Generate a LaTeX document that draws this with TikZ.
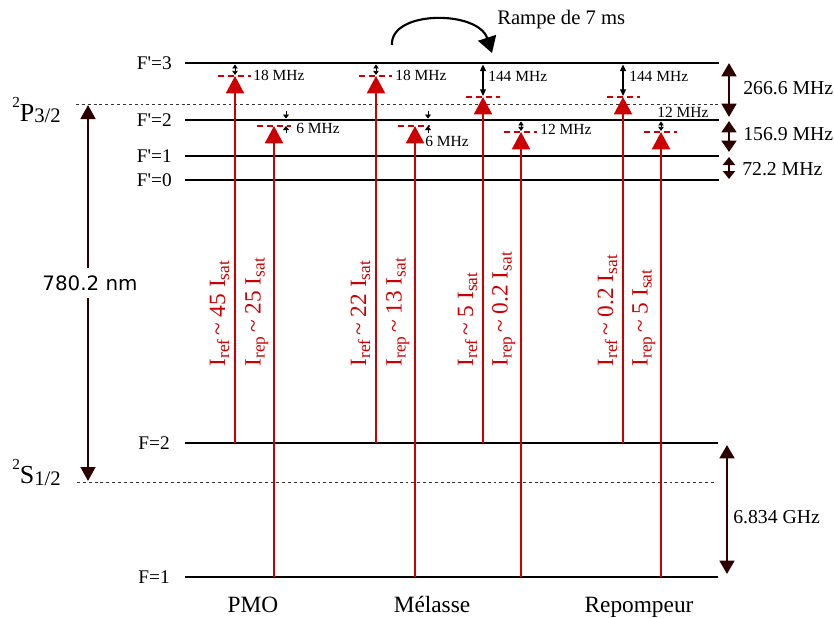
\documentclass[tikz,border=0pt]{standalone}
\usepackage{fontspec}
\setmainfont{Liberation Serif}
\newfontfamily\sansdv{DejaVu Sans}
\usetikzlibrary{arrows.meta}
\definecolor{rouge}{RGB}{204,0,0}
\definecolor{brun}{RGB}{45,0,0}
\newcommand{\indice}[1]{\raisebox{-3pt}{\fontsize{13}{13}\selectfont #1}}
\newcommand{\intens}[2]{I\indice{#1}\,\textasciitilde\ #2 I\indice{sat}}

\begin{document}
\begin{tikzpicture}[x=0.75pt, y=-0.75pt,
  niveau/.style={line width=1.8pt},
  pointille/.style={line width=0.7pt, draw=black!80, dash pattern=on 2.2pt off 2.2pt},
  laser/.style={draw=rouge, line width=1.5pt, -{Triangle[length=13pt,width=13.5pt]}},
  decal/.style={draw=rouge, line width=1.2pt, dash pattern=on 4.5pt off 3pt},
  ecart/.style={draw=brun, line width=2pt, {Triangle[length=#1,width=11pt]}-{Triangle[length=#1,width=11pt]}},
  ecart/.default=10pt,
  ecartc/.style={draw=brun, line width=2pt, {Triangle[length=6pt,width=9pt]}-{Triangle[length=6pt,width=9pt]}},
  petit/.style={line width=0.6pt, {Triangle[length=3pt,width=4pt]}-{Triangle[length=3pt,width=4pt]}},
  fin/.style={line width=0.8pt, {Triangle[length=5pt,width=4.5pt]}-{Triangle[length=5pt,width=4.5pt]}},
  pointe/.style={line width=0.6pt, -{Triangle[length=3pt,width=4.5pt]}},
  rampe/.style={line width=1.6pt, -{Triangle[length=12pt,width=14pt]}},
  nivlbl/.style={anchor=east, inner sep=0pt, font=\fontsize{14.5}{16}\selectfont},
  mhz/.style={anchor=west, inner sep=0pt, font=\fontsize{11.6}{13}\selectfont},
  freq/.style={anchor=west, inner sep=0pt, font=\fontsize{14.8}{16}\selectfont},
  inten/.style={rotate=90, anchor=south west, inner sep=1pt, text=rouge,
                font=\fontsize{17.5}{19}\selectfont},
  etape/.style={anchor=base, inner sep=0pt, font=\fontsize{17.5}{19}\selectfont}
]
  \useasboundingbox (0,0) rectangle (834,617);

  % Niveaux hyperfins
  \coordinate (e3g) at (185,63);  \coordinate (e3d) at (719,63);
  \coordinate (e2g) at (185,120); \coordinate (e2d) at (719,120);
  \coordinate (e1g) at (185,156); \coordinate (e1d) at (719,156);
  \coordinate (e0g) at (185,180); \coordinate (e0d) at (719,180);
  \coordinate (f2g) at (185,443); \coordinate (f2d) at (718,443);
  \coordinate (f1g) at (185,577); \coordinate (f1d) at (718,577);
  \draw[niveau] (e3g) -- (e3d);
  \draw[niveau] (e2g) -- (e2d);
  \draw[niveau] (e1g) -- (e1d);
  \draw[niveau] (e0g) -- (e0d);
  \draw[niveau] (f2g) -- (f2d);
  \draw[niveau] (f1g) -- (f1d);
  \node[nivlbl] (le3) at (172,63)  {F\textquotesingle=3};
  \node[nivlbl] (le2) at (172,120) {F\textquotesingle=2};
  \node[nivlbl] (le1) at (172,156) {F\textquotesingle=1};
  \node[nivlbl] (le0) at (172,180) {F\textquotesingle=0};
  \node[nivlbl] (lf2) at (170,443) {F=2};
  \node[nivlbl] (lf1) at (170,577) {F=1};

  % Niveaux fins (pointillés)
  \coordinate (pg) at (76,104); \coordinate (pd) at (719,104);
  \coordinate (sg) at (77,482); \coordinate (sd) at (716,482);
  \draw[pointille] (pg) -- (pd);
  \draw[pointille] (sg) -- (sd);
  \node[anchor=base west, inner sep=0pt] (tP) at (12,121)
    {\fontsize{19.5}{20}\selectfont\raisebox{10.5pt}{\fontsize{11.5}{12}\selectfont 2}P\raisebox{-1pt}{\fontsize{15.5}{16}\selectfont 3/2}};
  \node[anchor=base west, inner sep=0pt] (tS) at (12,483)
    {\fontsize{19.5}{20}\selectfont\raisebox{10pt}{\fontsize{11.5}{12}\selectfont 2}S\raisebox{-2pt}{\fontsize{15.5}{16}\selectfont 1/2}};

  % Transition D2
  \coordinate (g1) at (88,105); \coordinate (g2) at (88,481);
  \draw[ecart=10.5pt] (g1) -- (g2);
  \node[fill=white, inner xsep=2pt, inner ysep=5.5pt, font=\sansdv\fontsize{14.9}{16}\selectfont]
    (lnm) at (90,283) {780.2 nm};

  % Écarts hyperfins
  \coordinate (d1) at (729,63);  \coordinate (d2) at (729,117);
  \coordinate (d3) at (729,121); \coordinate (d4) at (729,152);
  \coordinate (d5) at (729,157); \coordinate (d6) at (729,179);
  \coordinate (d7) at (727,445); \coordinate (d8) at (727,574);
  \draw[ecart] (d1) -- (d2);
  \draw[ecart=8.5pt] (d3) -- (d4);
  \draw[ecartc] (d5) -- (d6);
  \draw[ecart] (d7) -- (d8);
  \node[freq] (l266) at (743,88)  {266.6 MHz};
  \node[freq] (l156) at (743,134) {156.9 MHz};
  \node[freq] (l72)  at (742,169) {72.2 MHz};
  \node[freq] (l6834) at (733,517) {6.834 GHz};

  % Faisceaux : départ et arrivée
  \coordinate (pmoR0) at (235,443); \coordinate (pmoR1) at (235,76);
  \coordinate (pmoP0) at (274,577); \coordinate (pmoP1) at (274,126);
  \coordinate (melR0) at (376,443); \coordinate (melR1) at (376,76);
  \coordinate (melP0) at (415,577); \coordinate (melP1) at (415,126);
  \coordinate (ramR0) at (483,443); \coordinate (ramR1) at (483,97);
  \coordinate (ramP0) at (521,577); \coordinate (ramP1) at (521,132);
  \coordinate (repR0) at (623,443); \coordinate (repR1) at (623,97);
  \coordinate (repP0) at (661,577); \coordinate (repP1) at (661,132);

  % Désaccords (tirets rouges)
  \draw[decal] ([xshift=-13pt]pmoR1) -- ([xshift=12pt]pmoR1);
  \draw[decal] ([xshift=-13pt]pmoP1) -- ([xshift=13pt]pmoP1);
  \draw[decal] ([xshift=-13pt]melR1) -- ([xshift=12pt]melR1);
  \draw[decal] ([xshift=-13pt]melP1) -- ([xshift=11pt]melP1);
  \draw[decal] ([xshift=-13pt]ramR1) -- ([xshift=13pt]ramR1);
  \draw[decal] ([xshift=-13pt]ramP1) -- ([xshift=12pt]ramP1);
  \draw[decal] ([xshift=-12pt]repR1) -- ([xshift=13pt]repR1);
  \draw[decal] ([xshift=-13pt]repP1) -- ([xshift=12pt]repP1);

  % Petites flèches de désaccord
  \draw[petit] ([yshift=-1.1pt]pmoR1 |- e3g) -- ([yshift=0.8pt]pmoR1);
  \draw[petit] ([yshift=-1.1pt]melR1 |- e3g) -- ([yshift=0.8pt]melR1);
  \draw[fin]   ([yshift=-1.1pt]ramR1 |- e3g) -- ([yshift=0.8pt]ramR1);
  \draw[fin]   ([yshift=-1.1pt]repR1 |- e3g) -- ([yshift=0.8pt]repR1);
  \draw[petit] ([yshift=-1.1pt]ramP1 |- e2g) -- ([yshift=0.8pt]ramP1);
  \draw[petit] ([yshift=-1.1pt]repP1 |- e2g) -- ([yshift=0.8pt]repP1);
  \coordinate (pmo6a) at (286,111); \coordinate (pmo6b) at (286,118.5);
  \coordinate (pmo6c) at (286,133); \coordinate (pmo6d) at (286,126);
  \coordinate (mel6a) at (428,111); \coordinate (mel6b) at (428,118.5);
  \coordinate (mel6c) at (428,133); \coordinate (mel6d) at (428,126);
  \draw[pointe] (pmo6a) -- (pmo6b);
  \draw[pointe] (pmo6c) -- (pmo6d);
  \draw[pointe] (mel6a) -- (mel6b);
  \draw[pointe] (mel6c) -- (mel6d);
  \node[mhz] (m1) at (253,75)  {18 MHz};
  \node[mhz] (m2) at (395,75)  {18 MHz};
  \node[mhz] (m3) at (296,128) {6 MHz};
  \node[mhz] (m4) at (425,141) {6 MHz};
  \node[mhz] (m5) at (488,76)  {144 MHz};
  \node[mhz] (m6) at (629,76)  {144 MHz};
  \node[mhz] (m7) at (540,129) {12 MHz};
  \node[mhz] (m8) at (657,112) {12 MHz};

  % Faisceaux laser
  \draw[laser] (pmoR0) -- (pmoR1);
  \draw[laser] (pmoP0) -- (pmoP1);
  \draw[laser] (melR0) -- (melR1);
  \draw[laser] (melP0) -- (melP1);
  \draw[laser] (ramR0) -- (ramR1);
  \draw[laser] (ramP0) -- (ramP1);
  \draw[laser] (repR0) -- (repR1);
  \draw[laser] (repP0) -- (repP1);

  % Intensités
  \node[inten] (i1) at (231,368) {\intens{ref}{45}};
  \node[inten] (i2) at (270,368) {\intens{rep}{25}};
  \node[inten] (i3) at (372,368) {\intens{ref}{22}};
  \node[inten] (i4) at (411,368) {\intens{rep}{13}};
  \node[inten] (i5) at (479,368) {\intens{ref}{5}};
  \node[inten] (i6) at (517,368) {\intens{rep}{0.2}};
  \node[inten] (i7) at (619,368) {\intens{ref}{0.2}};
  \node[inten] (i8) at (657,368) {\intens{rep}{5}};

  % Rampe
  \coordinate (c0) at (392,45); \coordinate (c1) at (492,53);
  \draw[rampe] (c0) .. controls (390,10) and (478,10) .. (c1);
  \node[anchor=base west, inner sep=0pt, font=\fontsize{15.5}{17}\selectfont]
    (lrampe) at (497,25) {Rampe de 7 ms};

  % Étapes
  \node[etape] (pmo) at (253,612) {PMO};
  \node[etape] (mel) at (432,612) {Mélasse};
  \node[etape] (rep) at (639,612) {Repompeur};
\end{tikzpicture}
\end{document}
